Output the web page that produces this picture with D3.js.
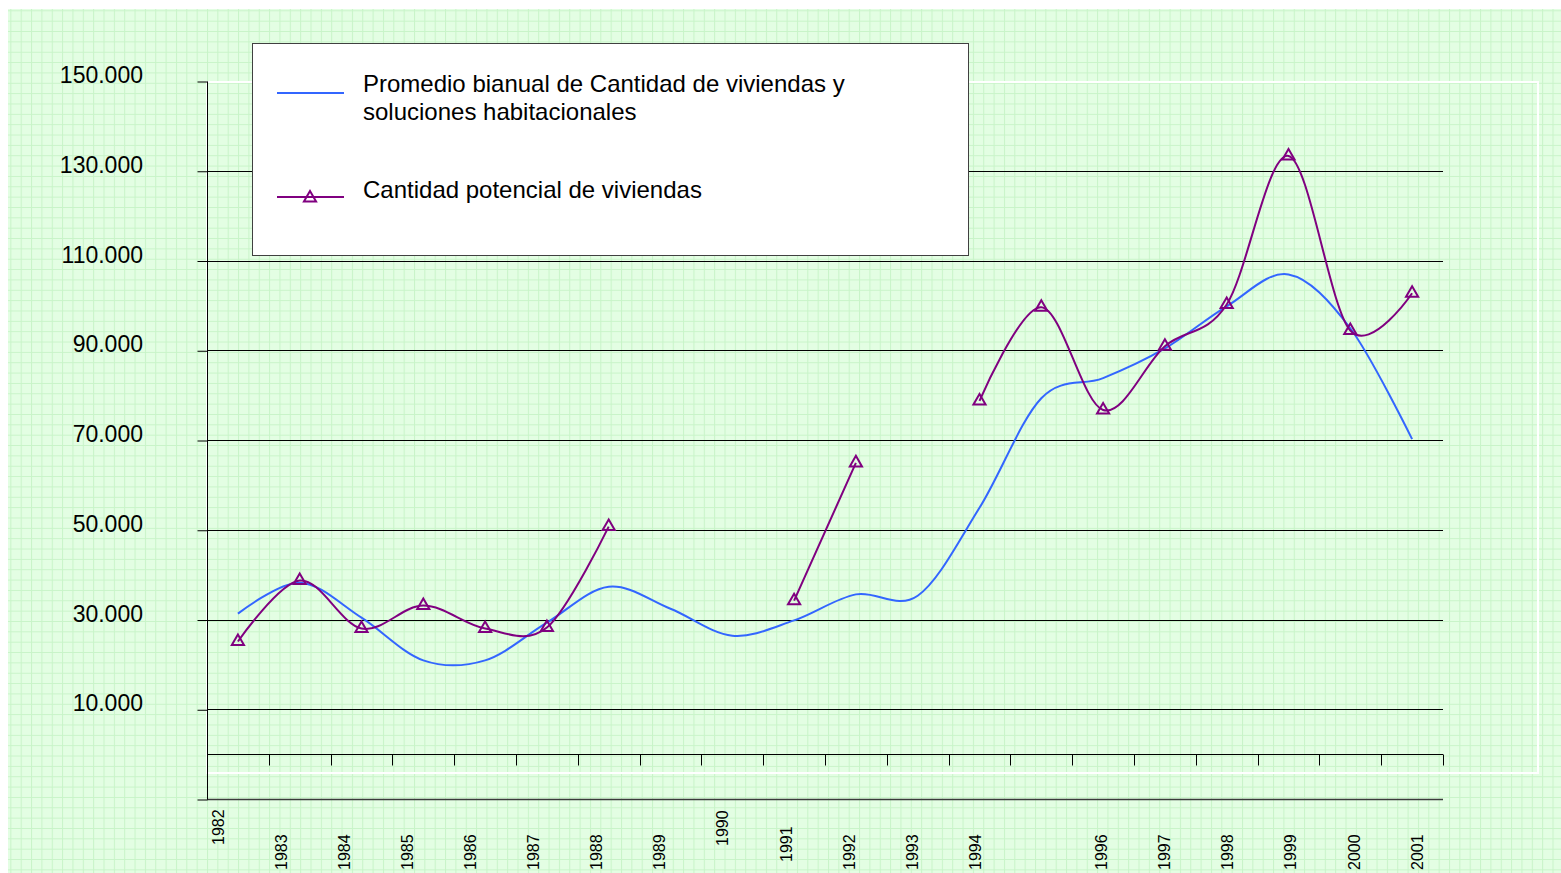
<!DOCTYPE html>
<html>
<head>
<meta charset="utf-8">
<script src="https://cdn.jsdelivr.net/npm/d3@7"></script>
<style>
  html, body { margin: 0; padding: 0; background: #ffffff; }
  svg { display: block; font-family: "Liberation Sans", Arial, sans-serif; }
</style>
</head>
<body>
<div id="chart"></div>
<script>
// categories along the x axis (one band per year)
var years = ["1982", "1983", "1984", "1985", "1986", "1987", "1988", "1989", "1990", "1991",
  "1992", "1993", "1994", "1995", "1996", "1997", "1998", "1999", "2000", "2001"];

// tick labels shown under the axis (1995 has no label in the original)
var yearLabels = ["1982", "1983", "1984", "1985", "1986", "1987", "1988", "1989", "1990", "1991",
  "1992", "1993", "1994", "", "1996", "1997", "1998", "1999", "2000", "2001"];

// Promedio bianual de Cantidad de viviendas y soluciones habitacionales
var promedioBianual = [31300, 38200, 30400, 20900, 20900, 29300, 37300, 32400, 26400, 29800,
  35600, 35300, 54900, 79300, 83800, 90400, 99800, 106900, 94900, 70200];

// Cantidad potencial de viviendas (null = no data, line is broken there)
var cantidadPotencial = [25100, 38700, 28000, 33100, 28000, 28200, 50700, null, null, 34200,
  64900, null, 78700, 99600, 76700, 90900, 100200, 133300, 94400, 102700];

// value axis ticks
var yTickValues = [150000, 130000, 110000, 90000, 70000, 50000, 30000, 10000, -10000];
var yGridValues = [130000, 110000, 90000, 70000, 50000, 30000, 10000, -10000];

var seriesNames = [
  ["Promedio bianual de Cantidad de viviendas y", "soluciones habitacionales"],
  ["Cantidad potencial de viviendas"]
];

// a few of the year labels sit higher up in the original
var labelLift = { "1982": 25, "1990": 24, "1991": 8 };

function drawChart() {
  var width = 1561,
    height = 873;

  var svg = d3
    .select("#chart")
    .append("svg")
    .attr("width", width)
    .attr("height", height);

  // spanish number format: 150.000
  var esFormat = d3.formatLocale({
    decimal: ",",
    thousands: ".",
    grouping: [3],
    currency: ["$", ""]
  }).format(",");

  // green "small grid" background pattern
  var defs = svg.append("defs");
  var pat = defs
    .append("pattern")
    .attr("id", "smallGrid")
    .attr("patternUnits", "userSpaceOnUse")
    .attr("width", 10.35)
    .attr("height", 10.35);
  pat.append("rect")
    .attr("width", 10.35)
    .attr("height", 10.35)
    .attr("fill", "#e3fee3");
  pat.append("path")
    .attr("d", "M 0 0.5 H 10.35 M 0.5 0 V 10.35")
    .attr("stroke", "#c8f4c8")
    .attr("stroke-width", 1)
    .attr("fill", "none");

  svg.append("rect")
    .attr("x", 8)
    .attr("y", 9)
    .attr("width", width - 8)
    .attr("height", height - 9)
    .attr("fill", "url(#smallGrid)");

  // scales
  var x = d3.scaleBand()
    .domain(years)
    .range([207, 1443])
    .padding(0);

  var y = d3.scaleLinear()
    .domain([-10000, 150000])
    .range([799, 81]);

  // year labels are spread a little wider than the bands
  var xLabel = d3.scalePoint()
    .domain(years)
    .range([218, 1417]);

  // white plot area border
  svg.append("rect")
    .attr("x", 207)
    .attr("y", 82)
    .attr("width", 1331)
    .attr("height", 691)
    .attr("fill", "none")
    .attr("stroke", "#ffffff")
    .attr("stroke-width", 2);

  // horizontal gridlines
  svg.append("g")
    .selectAll("line")
    .data(yGridValues)
    .enter()
    .append("line")
    .attr("x1", 207)
    .attr("x2", 1443)
    .attr("y1", function(d) { return Math.round(y(d)) + 0.5; })
    .attr("y2", function(d) { return Math.round(y(d)) + 0.5; })
    .attr("stroke", function(d) { return d < 0 ? "#3a3a3a" : "#000000"; })
    .attr("stroke-width", function(d) { return d < 0 ? 1.5 : 1; });

  // y axis with ticks and labels
  var yAxis = d3.axisLeft(y)
    .tickValues(yTickValues)
    .tickSize(10)
    .tickFormat("");

  var yG = svg.append("g")
    .attr("transform", "translate(207.5,0.5)")
    .call(yAxis);
  yG.select(".domain").attr("d", "M0," + Math.round(y(150000)) + "V" + Math.round(y(-10000)));
  yG.selectAll("line").attr("stroke", "#000");

  svg.append("g")
    .selectAll("text")
    .data(yTickValues.filter(function(d) { return d > 0; }))
    .enter()
    .append("text")
    .attr("x", 143)
    .attr("y", function(d) { return y(d) - 6; })
    .attr("dy", "0.35em")
    .attr("text-anchor", "end")
    .attr("font-size", 23)
    .attr("fill", "#000")
    .text(function(d) { return esFormat(d); });

  // x axis at zero with ticks between categories
  var xG = svg.append("g")
    .attr("transform", "translate(0," + (Math.round(y(0)) + 0.5) + ")");
  xG.append("line")
    .attr("x1", 207)
    .attr("x2", 1443)
    .attr("stroke", "#000");
  xG.selectAll(".tick")
    .data(years.concat(["end"]))
    .enter()
    .append("line")
    .attr("class", "tick")
    .attr("x1", function(d, i) { return Math.round(i < years.length ? x(d) : x.range()[1]) + 0.5; })
    .attr("x2", function(d, i) { return Math.round(i < years.length ? x(d) : x.range()[1]) + 0.5; })
    .attr("y1", 0)
    .attr("y2", 11)
    .attr("stroke", "#000");

  // rotated year labels
  svg.append("g")
    .selectAll("text")
    .data(years)
    .enter()
    .append("text")
    .attr("transform", function(d) {
      var lift = labelLift[d] || 0;
      return "translate(" + xLabel(d) + "," + (870 - lift) + ") rotate(-90)";
    })
    .attr("dy", "0.35em")
    .attr("text-anchor", "start")
    .attr("font-size", 16)
    .attr("fill", "#000")
    .text(function(d, i) { return yearLabels[i]; });

  // line generator, smoothed like the original spreadsheet chart
  var line = d3.line()
    .defined(function(d) { return d.value != null; })
    .x(function(d) { return x(d.year) + x.bandwidth() / 2; })
    .y(function(d) { return y(d.value); })
    .curve(d3.curveCardinal.tension(0));

  var blueData = years.map(function(yr, i) { return { year: yr, value: promedioBianual[i] }; });
  var purpleData = years.map(function(yr, i) { return { year: yr, value: cantidadPotencial[i] }; });

  svg.append("path")
    .datum(blueData)
    .attr("d", line)
    .attr("fill", "none")
    .attr("stroke", "#3366ff")
    .attr("stroke-width", 2);

  svg.append("path")
    .datum(purpleData)
    .attr("d", line)
    .attr("fill", "none")
    .attr("stroke", "#800080")
    .attr("stroke-width", 2);

  var triangle = d3.symbol().type(d3.symbolTriangle).size(64);

  svg.append("g")
    .selectAll("path")
    .data(purpleData.filter(function(d) { return d.value != null; }))
    .enter()
    .append("path")
    .attr("d", triangle)
    .attr("transform", function(d) {
      return "translate(" + (x(d.year) + x.bandwidth() / 2) + "," + y(d.value) + ")";
    })
    .attr("fill", "none")
    .attr("stroke", "#800080")
    .attr("stroke-width", 2);

  // legend box
  var legend = svg.append("g");
  legend.append("rect")
    .attr("x", 252.5)
    .attr("y", 43.5)
    .attr("width", 716)
    .attr("height", 212)
    .attr("fill", "#ffffff")
    .attr("stroke", "#404040")
    .attr("stroke-width", 1);

  legend.append("line")
    .attr("x1", 277)
    .attr("x2", 344)
    .attr("y1", 93)
    .attr("y2", 93)
    .attr("stroke", "#3366ff")
    .attr("stroke-width", 2);

  var t1 = legend.append("text")
    .attr("x", 363)
    .attr("y", 92)
    .attr("font-size", 24)
    .attr("fill", "#000");
  seriesNames[0].forEach(function(s, i) {
    t1.append("tspan")
      .attr("x", 363)
      .attr("dy", i == 0 ? 0 : 28)
      .text(s);
  });

  legend.append("line")
    .attr("x1", 277)
    .attr("x2", 344)
    .attr("y1", 197)
    .attr("y2", 197)
    .attr("stroke", "#800080")
    .attr("stroke-width", 2);
  legend.append("path")
    .attr("d", triangle)
    .attr("transform", "translate(310,198)")
    .attr("fill", "none")
    .attr("stroke", "#800080")
    .attr("stroke-width", 2);

  legend.append("text")
    .attr("x", 363)
    .attr("y", 198)
    .attr("font-size", 24)
    .attr("fill", "#000")
    .text(seriesNames[1][0]);
}

drawChart();
</script>
</body>
</html>
